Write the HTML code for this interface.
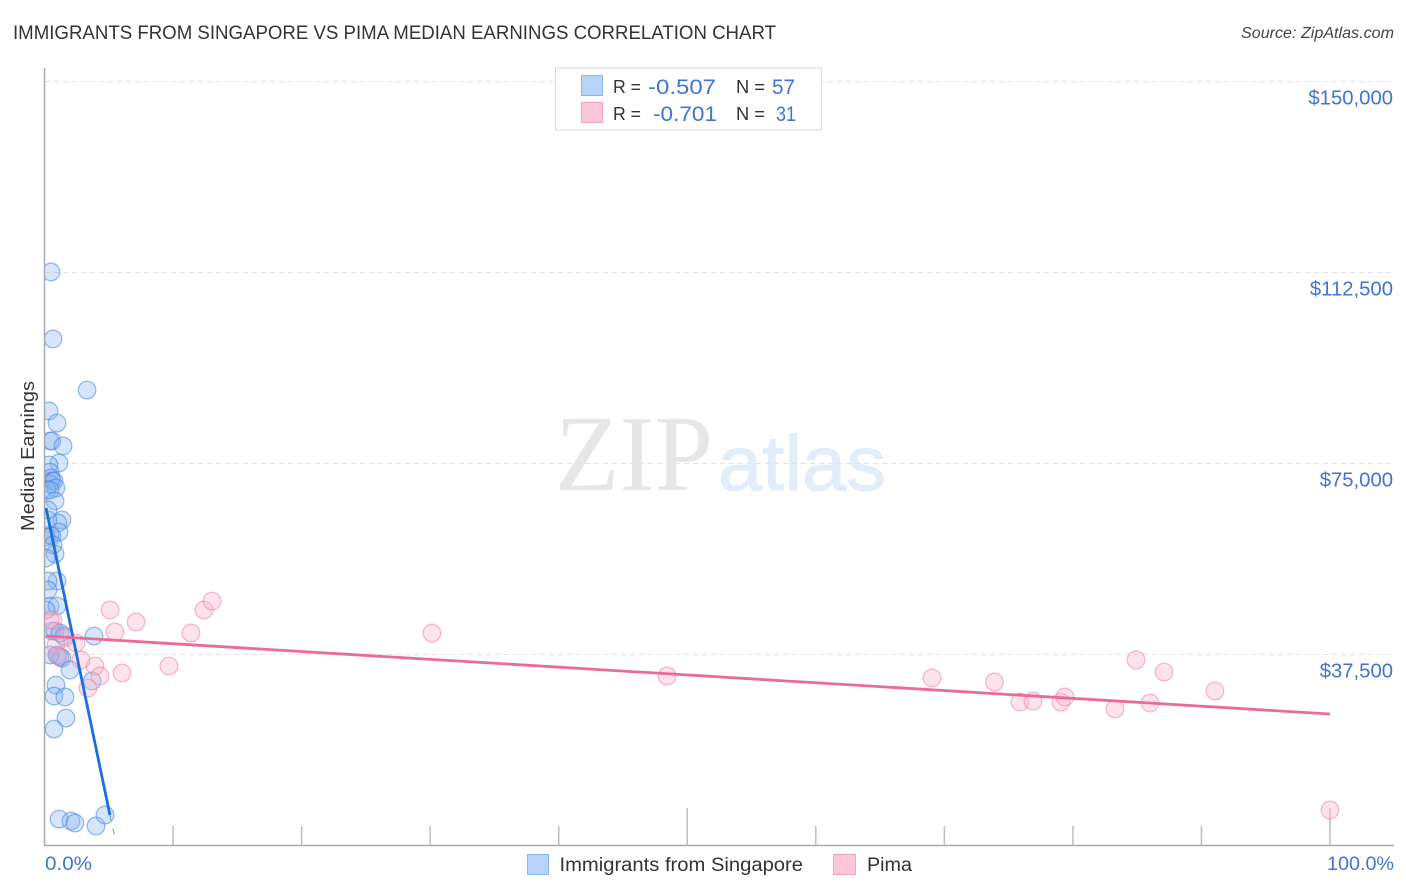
<!DOCTYPE html>
<html lang="en">
<head>
<meta charset="utf-8">
<title>Immigrants from Singapore vs Pima Median Earnings Correlation Chart</title>
<style>
html,body{margin:0;padding:0;background:#fff;width:1406px;height:892px;overflow:hidden}
svg{display:block;font-family:"Liberation Sans",sans-serif}
</style>
</head>
<body>
<svg id="chart" width="1406" height="892" viewBox="0 0 1406 892" xmlns="http://www.w3.org/2000/svg">
  <defs>
    <clipPath id="plot-clip"><rect x="45" y="60" width="1349" height="785"/></clipPath>
  </defs>
  <text x="13" y="39" font-size="19" fill="#333" textLength="763" lengthAdjust="spacingAndGlyphs">IMMIGRANTS FROM SINGAPORE VS PIMA MEDIAN EARNINGS CORRELATION CHART</text>
  <text x="1241" y="38" font-size="15.5" font-style="italic" fill="#444" textLength="153" lengthAdjust="spacingAndGlyphs">Source: ZipAtlas.com</text>

  <g>
    <text x="555" y="490" font-family="'Liberation Serif',serif" font-size="108" fill="#e6e6e6" textLength="158" lengthAdjust="spacingAndGlyphs">ZIP</text>
    <text x="718" y="490" font-size="78" fill="#e3edf9" stroke="#e3edf9" stroke-width="1" textLength="168" lengthAdjust="spacingAndGlyphs">atlas</text>
  </g>

  <g id="grid"></g>
  <g id="axes"></g>
  <g id="points" clip-path="url(#plot-clip)"></g>
  <g id="trends"></g>
  <g id="yticks"></g>

  <text transform="translate(34,456) rotate(-90)" text-anchor="middle" font-size="18.5" fill="#333" textLength="150" lengthAdjust="spacingAndGlyphs">Median Earnings</text>
  <text x="45" y="870" font-size="19" fill="#3f74d6" textLength="47" lengthAdjust="spacingAndGlyphs">0.0%</text>
  <text x="1327" y="870" font-size="19" fill="#3f74d6" textLength="67" lengthAdjust="spacingAndGlyphs">100.0%</text>

  <g>
    <rect x="555.5" y="68" width="266" height="62" fill="#fff" stroke="#d8d8d8" stroke-width="1"/>
    <rect x="581.5" y="75.5" width="21" height="20" fill="#b8d3f7" stroke="#8ab4ee"/>
    <rect x="581.5" y="102.5" width="21" height="20" fill="#fcc7d8" stroke="#f2a3bd"/>
    <text x="613" y="93" font-size="18.5" fill="#333" textLength="28" lengthAdjust="spacingAndGlyphs">R =</text>
    <text x="648" y="94" font-size="21.5" fill="#3f74d6" textLength="68" lengthAdjust="spacingAndGlyphs">-0.507</text>
    <text x="736" y="93" font-size="18.5" fill="#333" textLength="29" lengthAdjust="spacingAndGlyphs">N =</text>
    <text x="772" y="94" font-size="21.5" fill="#3f74d6" textLength="23" lengthAdjust="spacingAndGlyphs">57</text>
    <text x="613" y="120" font-size="18.5" fill="#333" textLength="28" lengthAdjust="spacingAndGlyphs">R =</text>
    <text x="653" y="121" font-size="21.5" fill="#3f74d6" textLength="64" lengthAdjust="spacingAndGlyphs">-0.701</text>
    <text x="736" y="120" font-size="18.5" fill="#333" textLength="29" lengthAdjust="spacingAndGlyphs">N =</text>
    <text x="776" y="121" font-size="21.5" fill="#3f74d6" textLength="20" lengthAdjust="spacingAndGlyphs">31</text>
  </g>

  <g>
    <g>
      <rect x="527.5" y="854.5" width="21" height="20" fill="#b8d3f7" stroke="#8ab4ee"/>
      <text x="559.5" y="871" font-size="19" fill="#333" textLength="243.5" lengthAdjust="spacingAndGlyphs">Immigrants from Singapore</text>
    </g>
    <g>
      <rect x="833.5" y="854.5" width="22" height="20" fill="#fcc7d8" stroke="#f2a3bd"/>
      <text x="867" y="871" font-size="19" fill="#333" textLength="45" lengthAdjust="spacingAndGlyphs">Pima</text>
    </g>
  </g>
</svg>

<script>
const yTickValues = [37500, 75000, 112500, 150000];
const yTickLabels = ["$37,500", "$75,000", "$112,500", "$150,000"];
const xTickValues = [0, 10, 20, 30, 40, 50, 60, 70, 80, 90, 100];
const xTickMajor = [false, false, false, false, false, true, false, false, false, false, true];

const singaporePct = [0.51,0.66,3.31,0.35,0.97,0.43,0.58,1.44,1.13,0.35,0.43,0.51,0.58,0.43,0.74,0.89,0.19,0.43,0.82,0.27,1.36,1.05,1.13,0.43,0.58,0.12,0.66,0.82,0.12,0.97,0.27,0.43,0.97,0.12,0.82,0.58,1.52,3.85,0.97,1.21,1.36,1.98,3.70,0.89,0.74,1.59,1.67,0.74,1.13,2.06,2.37,4.01,4.71,0.27,1.21,0.43,0.27];
const singaporeEarnings = [112600,99450,89430,85310,82950,79420,79420,78440,75100,74710,73330,72150,71570,70980,71570,70190,69800,69800,67640,65870,63910,63320,61550,60960,60770,60570,59000,57230,56450,51930,51930,47020,47020,46240,42110,42110,41130,41130,37400,37010,36810,34460,32300,31510,29350,29160,25030,22870,5200,4810,4420,3830,5990,50170,41720,37400,63910];
const pimaPct = [5.10,5.48,7.12,12.41,13.03,11.40,30.14,9.68,6.03,3.93,4.32,2.84,3.38,2.45,0.89,1.59,0.66,0.43,1.05,48.43,69.04,73.90,75.88,76.89,79.07,79.38,83.27,84.91,87.09,86.00,91.05,100];
const pimaEarnings = [46240,41920,43880,46240,48000,41720,41720,35240,33870,35240,33280,36420,30920,39760,39370,40740,44270,44270,37210,33280,32890,32100,28170,28370,28170,29160,26800,36420,34060,27980,30330,6970];

const singaporeTrendPct = [0.12, 5.09];
const singaporeTrendEarnings = [66280, 5990];
const singaporeTrendDashPct = [5.09, 5.5];
const singaporeTrendDashEarnings = [5990, 1280];
const pimaTrendPct = [0.12, 100];
const pimaTrendEarnings = [41130, 25820];

const NS = 'http://www.w3.org/2000/svg';
const xScale = p => 44.5 + p * 12.855;
const yScale = v => 845.5 - v / 196.34;
const make = (tag, parent, props) => {
  const el = document.createElementNS(NS, tag);
  for (const k in props) el.setAttribute(k, props[k]);
  document.getElementById(parent).appendChild(el);
  return el;
};

yTickValues.forEach((v, i) => {
  const line = make('line', 'grid', {x1: 45, x2: 1393, y1: yScale(v), y2: yScale(v), stroke: '#e2e2e2', 'stroke-width': 1, 'stroke-dasharray': '5 4'});
  
  
  const label = make('text', 'yticks', {x: 1393, y: yScale(v) + 23, 'text-anchor': 'end', 'font-size': 20.3, fill: '#3f74d6'});
  
  
  label.textContent = yTickLabels[i];
});

const yAxis = make('line', 'axes', {x1: 44.5, x2: 44.5, y1: 68, y2: 846, stroke: '#aaaaaa', 'stroke-width': 1.5});


const xAxis = make('line', 'axes', {x1: 44, x2: 1394, y1: 845.5, y2: 845.5, stroke: '#aaaaaa', 'stroke-width': 1.5});


xTickValues.forEach((t, i) => {
  if (t === 0) return;
  const tick = make('line', 'axes', {x1: xScale(t), x2: xScale(t), y1: xTickMajor[i] ? 808 : 826, y2: 845, stroke: '#bdbdbd', 'stroke-width': 1.5});
  
  
});

singaporePct.forEach((p, i) => {
  const dot = make('circle', 'points', {cx: xScale(p), cy: yScale(singaporeEarnings[i]), r: 8.8, fill: 'rgba(135,180,240,0.34)', stroke: 'rgba(70,135,225,0.55)', 'stroke-width': 1.3});
  
  
});
pimaPct.forEach((p, i) => {
  const dot = make('circle', 'points', {cx: xScale(p), cy: yScale(pimaEarnings[i]), r: 8.8, fill: 'rgba(248,175,200,0.34)', stroke: 'rgba(238,130,170,0.55)', 'stroke-width': 1.3});
  
  
});

const blueTrend = make('line', 'trends', {x1: xScale(singaporeTrendPct[0]), y1: yScale(singaporeTrendEarnings[0]), x2: xScale(singaporeTrendPct[1]), y2: yScale(singaporeTrendEarnings[1]), stroke: '#1b6fdc', 'stroke-width': 2.8});


const blueDash = make('line', 'trends', {x1: xScale(singaporeTrendDashPct[0]), y1: yScale(singaporeTrendDashEarnings[0]), x2: xScale(singaporeTrendDashPct[1]), y2: yScale(singaporeTrendDashEarnings[1]), stroke: '#5f9be6', 'stroke-width': 1, 'stroke-dasharray': '6 8'});


const pinkTrend = make('line', 'trends', {x1: xScale(pimaTrendPct[0]), y1: yScale(pimaTrendEarnings[0]), x2: xScale(pimaTrendPct[1]), y2: yScale(pimaTrendEarnings[1]), stroke: '#ea6a9a', 'stroke-width': 2.8});


</script>
</body>
</html>
